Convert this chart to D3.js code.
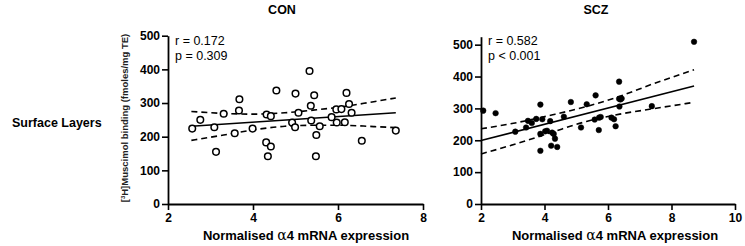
<!DOCTYPE html>
<html><head><meta charset="utf-8">
<script src="https://cdn.jsdelivr.net/npm/d3@7"></script>
<style>
body{margin:0;background:#fff;}
svg{display:block;}
text{font-family:Arial,"Liberation Sans",sans-serif;}
</style></head>
<body>
<svg id="c" width="745" height="246"></svg>
<script>
// ---- data ----
const conX = [2.57,2.76,3.09,3.13,3.31,3.57,3.68,3.67,3.99,4.31,4.32,4.35,4.42,4.42,4.55,4.92,4.99,5.00,5.07,5.33,5.36,5.37,5.44,5.48,5.49,5.57,5.85,5.96,5.97,6.08,6.16,6.20,6.26,6.32,6.56,7.36];
const conY = [224,250,228,155,268,210,311,278,224,183,266,142,171,261,337,242,228,328,271,395,292,248,323,142,205,231,258,281,242,282,243,330,297,271,188,218];
const conFitX = [2.55,7.36];
const conFitY = [231,271];
const conBandX = [2.55,3.31,4.0,4.75,5.5,6.06,6.84,7.36];
const conUpper = [275,269,267,271,280,288,304,315];
const conLower = [189,205,220,231,234,234,230,227];

const sczX = [2.07,2.46,3.08,3.42,3.48,3.60,3.74,3.87,3.87,3.87,3.93,4.02,4.08,4.18,4.21,4.24,4.29,4.33,4.40,4.61,4.83,5.15,5.33,5.58,5.61,5.72,5.71,5.77,6.11,6.19,6.24,6.35,6.35,6.39,6.36,6.43,7.38,8.71];
const sczY = [293,285,227,240,261,254,267,312,220,167,266,228,230,260,183,224,220,205,179,274,320,240,313,265,341,271,232,273,271,266,244,384,330,328,306,331,307,509];
const sczFitX = [2.0,8.71];
const sczFitY = [199,370];
const sczBandX = [2.0,3.21,4.26,5.32,6.37,7.42,8.71];
const sczUpper = [236,257,280,306,338,377,421];
const sczLower = [157,192,226,259,282,299,319];

const xTicksCon = [2,4,6,8];
const xTicksScz = [2,4,6,8,10];
const yTicks = [0,100,200,300,400,500];

const svg = d3.select("#c");

function panel(o){
  const x = d3.scaleLinear().domain(o.xDom).range(o.xRange);
  const y = d3.scaleLinear().domain(o.yDom).range([204, o.yTop]);
  const g = svg.append("g");
  // axes
  const ya = g.append("g").attr("transform",`translate(${o.xRange[0]},0)`)
    .call(d3.axisLeft(y).tickValues(yTicks).tickFormat(d3.format("d")).tickSize(6).tickPadding(2).tickSizeOuter(0));
  const xa = g.append("g").attr("transform",`translate(0,204)`)
    .call(d3.axisBottom(x).tickValues(o.xTicks).tickFormat(d3.format("d")).tickSize(6).tickPadding(3).tickSizeOuter(0));
  [ya,xa].forEach(a=>{
    a.select(".domain").attr("stroke","#000").attr("stroke-width",1.8);
    a.selectAll(".tick line").attr("stroke","#000").attr("stroke-width",1.6);
    a.selectAll(".tick text").attr("font-size",12).attr("font-weight","bold")
      .attr("font-family","Arial,'Liberation Sans',sans-serif").attr("fill","#000");
  });
  // bands
  const line = d3.line().x(d=>x(d[0])).y(d=>y(d[1])).curve(d3.curveMonotoneX);
  [o.up,o.lo].forEach(arr=>{
    g.append("path").attr("d",line(o.bandX.map((v,i)=>[v,arr[i]])))
      .attr("fill","none").attr("stroke","#000").attr("stroke-width",1.6)
      .attr("stroke-dasharray","6,4");
  });
  g.append("path").attr("d",line(o.fitX.map((v,i)=>[v,o.fitY[i]])))
    .attr("fill","none").attr("stroke","#000").attr("stroke-width",1.6);
  // points
  g.selectAll("circle.pt").data(o.px.map((v,i)=>[v,o.py[i]])).enter().append("circle")
    .attr("cx",d=>x(d[0])).attr("cy",d=>y(d[1]))
    .attr("r",o.open?3.3:2.8)
    .attr("fill",o.open?"#fff":"#000")
    .attr("stroke","#000").attr("stroke-width",o.open?1.5:0.5);
  // title
  g.append("text").attr("x",o.titleX).attr("y",14).attr("text-anchor","middle")
    .attr("font-size",12.5).attr("font-weight","bold").text(o.title);
  // stats
  g.append("text").attr("x",o.xRange[0]+7).attr("y",45).attr("font-size",12.5)
    .attr("font-family","Lato,'Open Sans',sans-serif").text(o.r);
  g.append("text").attr("x",o.xRange[0]+7).attr("y",60).attr("font-size",12.5)
    .attr("font-family","Lato,'Open Sans',sans-serif").text(o.p);
  // x title
  const t = g.append("text").attr("x",o.xTitleX).attr("y",240).attr("text-anchor","middle")
    .attr("font-size",13).attr("font-weight","bold");
  t.append("tspan").text("Normalised ");
  t.append("tspan").attr("font-family","'DejaVu Serif',serif").attr("font-weight","normal").attr("font-size",14).text("α");
  t.append("tspan").text("4 mRNA expression");
}

panel({xDom:[2,8],xRange:[168,423],yDom:[0,500],yTop:35.7,xTicks:xTicksCon,
  px:conX,py:conY,fitX:conFitX,fitY:conFitY,bandX:conBandX,up:conUpper,lo:conLower,
  open:true,title:"CON",titleX:282,r:"r = 0.172",p:"p = 0.309",xTitleX:306});
panel({xDom:[2,10],xRange:[481,735],yDom:[0,525],yTop:36.7,xTicks:xTicksScz,
  px:sczX,py:sczY,fitX:sczFitX,fitY:sczFitY,bandX:sczBandX,up:sczUpper,lo:sczLower,
  open:false,title:"SCZ",titleX:596,r:"r = 0.582",p:"p < 0.001",xTitleX:615});

// y label
svg.append("text").attr("transform","translate(128,118) rotate(-90)")
  .attr("text-anchor","middle").attr("font-size",9.5).attr("font-weight","bold")
  .attr("fill","#222")
  .html('[<tspan baseline-shift="super" font-size="6">3</tspan>H]Muscimol binding (fmoles/mg TE)');
svg.append("text").attr("x",12).attr("y",127).attr("font-size",12.5).attr("font-weight","bold")
  .text("Surface Layers");
</script>
</body></html>
